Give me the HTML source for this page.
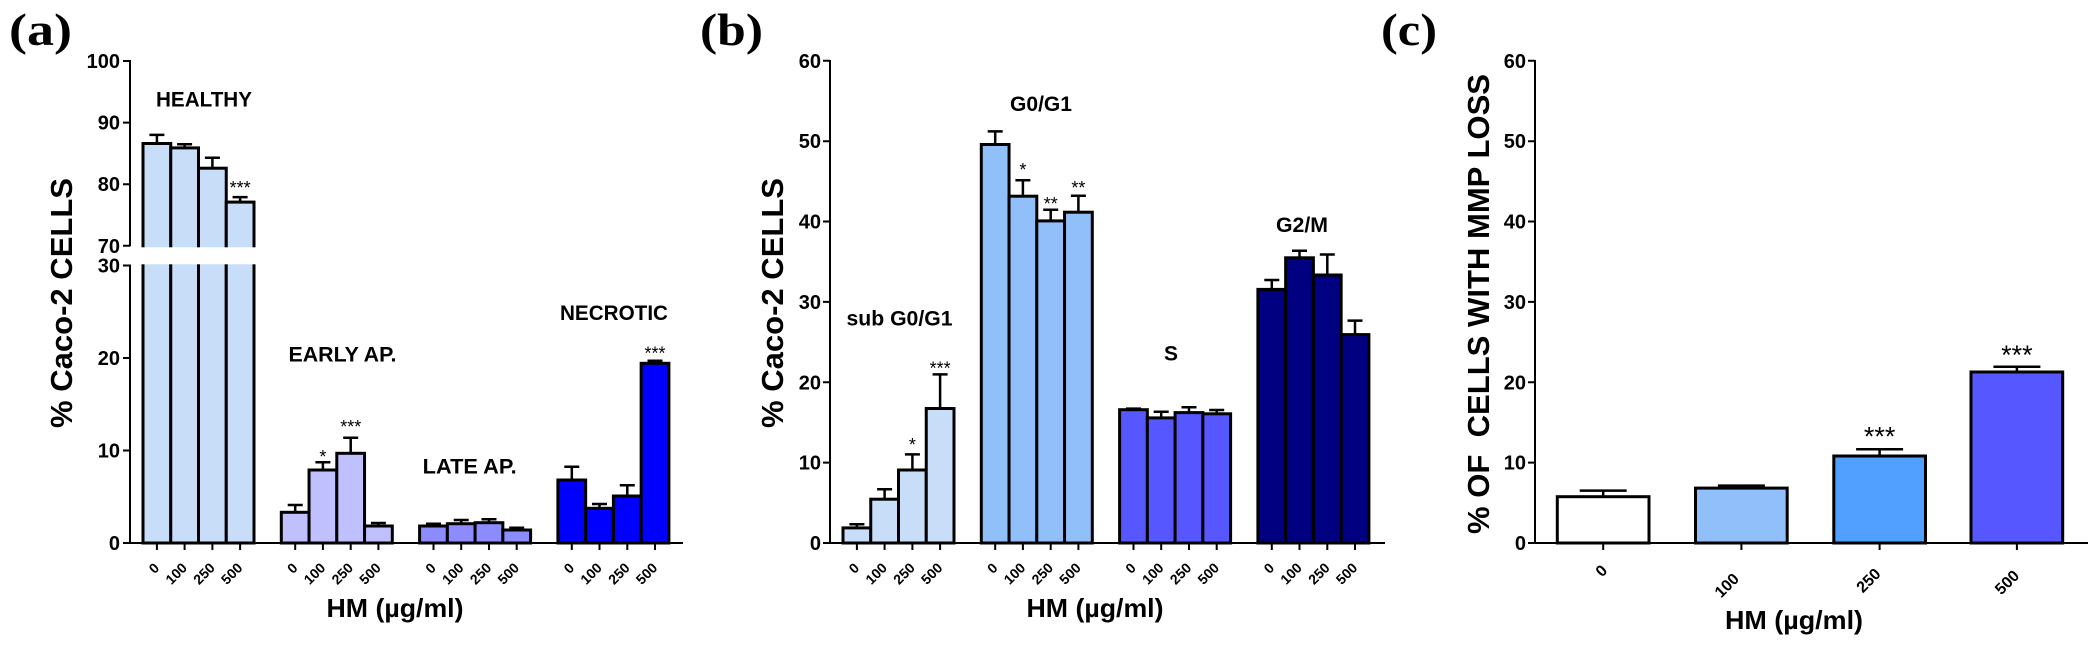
<!DOCTYPE html>
<html><head><meta charset="utf-8"><style>
html,body{margin:0;padding:0;background:#fff;}
svg{display:block;}
text{font-family:"Liberation Sans",Arial,sans-serif;}
.t{font-weight:bold;font-size:20px;text-anchor:end;}
.x{font-weight:bold;font-size:14px;text-anchor:end;}
.xc{font-weight:bold;font-size:16px;text-anchor:end;}
.lab{font-weight:bold;font-size:21px;text-anchor:middle;}
.st{font-size:18px;text-anchor:middle;}
.stc{font-size:27px;text-anchor:middle;}
.pl{font-family:"Liberation Serif",serif;font-weight:bold;font-size:46px;}
.yt{font-weight:bold;font-size:31px;text-anchor:middle;white-space:pre;}
.xt{font-weight:bold;font-size:26px;text-anchor:middle;}
</style></head><body>
<svg width="2097" height="645" viewBox="0 0 2097 645" xmlns="http://www.w3.org/2000/svg">
<rect width="2097" height="645" fill="#fff"/>

<!-- ================= PANEL A ================= -->
<text class="pl" x="9" y="45" textLength="63" lengthAdjust="spacingAndGlyphs">(a)</text>
<g stroke="#000" stroke-width="3">
<rect x="143" y="143.5" width="27.75" height="399.5" fill="#C8DEF8"/>
<rect x="170.75" y="147.9" width="27.75" height="395.1" fill="#C8DEF8"/>
<rect x="198.5" y="168.2" width="27.75" height="374.8" fill="#C8DEF8"/>
<rect x="226.25" y="202.1" width="27.75" height="340.9" fill="#C8DEF8"/>

<rect x="281.3" y="512.3" width="27.75" height="30.7" fill="#C0C0FF"/>
<rect x="309.05" y="470" width="27.75" height="73" fill="#C0C0FF"/>
<rect x="336.8" y="453.3" width="27.75" height="89.7" fill="#C0C0FF"/>
<rect x="364.55" y="526" width="27.75" height="17" fill="#C0C0FF"/>

<rect x="419.6" y="526" width="27.75" height="17" fill="#8C8CFF"/>
<rect x="447.35" y="523.7" width="27.75" height="19.3" fill="#8C8CFF"/>
<rect x="475.1" y="522.7" width="27.75" height="20.3" fill="#8C8CFF"/>
<rect x="502.85" y="530" width="27.75" height="13" fill="#8C8CFF"/>

<rect x="557.9" y="480" width="27.75" height="63" fill="#0000FF"/>
<rect x="585.65" y="508.3" width="27.75" height="34.7" fill="#0000FF"/>
<rect x="613.4" y="496" width="27.75" height="47" fill="#0000FF"/>
<rect x="641.15" y="363.3" width="27.75" height="179.7" fill="#0000FF"/>
</g>
<g stroke="#000" stroke-width="2.5" fill="none">
<path d="M156.9 143.5V134.9M149.4 134.9H164.4"/>
<path d="M184.6 147.9V144.2M177.1 144.2H192.1"/>
<path d="M212.4 168.2V157.7M204.9 157.7H219.9"/>
<path d="M240.1 202.1V197.1M232.6 197.1H247.6"/>
<path d="M295.2 512.3V505M287.7 505H302.7"/>
<path d="M322.9 470V462.3M315.4 462.3H330.4"/>
<path d="M350.7 453.3V437.7M343.2 437.7H358.2"/>
<path d="M378.4 526V523M370.9 523H385.9"/>
<path d="M433.5 526V523.7M426 523.7H441"/>
<path d="M461.2 523.7V520M453.7 520H468.7"/>
<path d="M489 522.7V519.3M481.5 519.3H496.5"/>
<path d="M516.7 530V527.7M509.2 527.7H524.2"/>
<path d="M571.8 480V466.7M564.3 466.7H579.3"/>
<path d="M599.5 508.3V504M592 504H607"/>
<path d="M627.3 496V485.3M619.8 485.3H634.8"/>
<path d="M655 363.3V360.7M647.5 360.7H662.5"/>
</g>
<!-- axis break -->
<rect x="124" y="247.3" width="134" height="17" fill="#fff"/>
<g stroke="#000" stroke-width="2" fill="none">
<path d="M130 60V246.3M130 264.5V544M123 61H130M123 122.6H130M123 184.2H130M123 245.8H130M123 265.5H130M123 358H130M123 450.5H130M123 543H130"/>
<path d="M129 543H683"/>
<path d="M156.9 543v7M184.6 543v7M212.4 543v7M240.1 543v7M295.2 543v7M322.9 543v7M350.7 543v7M378.4 543v7M433.5 543v7M461.2 543v7M489 543v7M516.7 543v7M571.8 543v7M599.5 543v7M627.3 543v7M655 543v7"/>
</g>
<text class="t" x="120" y="68">100</text>
<text class="t" x="120" y="129.6">90</text>
<text class="t" x="120" y="191.2">80</text>
<text class="t" x="120" y="252.8">70</text>
<text class="t" x="120" y="272.5">30</text>
<text class="t" x="120" y="365">20</text>
<text class="t" x="120" y="457.5">10</text>
<text class="t" x="120" y="550">0</text>
<text class="yt" transform="translate(72,303) rotate(-90)" textLength="250" lengthAdjust="spacingAndGlyphs">% Caco-2 CELLS</text>
<text class="lab" x="204" y="106.7" textLength="96" lengthAdjust="spacingAndGlyphs">HEALTHY</text>
<text class="lab" x="342.5" y="361.5" textLength="108" lengthAdjust="spacingAndGlyphs">EARLY AP.</text>
<text class="lab" x="469.7" y="473.5" textLength="94" lengthAdjust="spacingAndGlyphs">LATE AP.</text>
<text class="lab" x="614" y="320" textLength="108" lengthAdjust="spacingAndGlyphs">NECROTIC</text>
<text class="st" x="240.1" y="194">***</text>
<text class="st" x="322.9" y="463">*</text>
<text class="st" x="350.7" y="433">***</text>
<text class="st" x="655" y="359.3">***</text>
<g>
<text class="x" transform="translate(160.2,568.8) rotate(-45)">0</text>
<text class="x" transform="translate(187.9,568.8) rotate(-45)">100</text>
<text class="x" transform="translate(215.7,568.8) rotate(-45)">250</text>
<text class="x" transform="translate(243.4,568.8) rotate(-45)">500</text>
<text class="x" transform="translate(298.5,568.8) rotate(-45)">0</text>
<text class="x" transform="translate(326.2,568.8) rotate(-45)">100</text>
<text class="x" transform="translate(354,568.8) rotate(-45)">250</text>
<text class="x" transform="translate(381.7,568.8) rotate(-45)">500</text>
<text class="x" transform="translate(436.8,568.8) rotate(-45)">0</text>
<text class="x" transform="translate(464.5,568.8) rotate(-45)">100</text>
<text class="x" transform="translate(492.3,568.8) rotate(-45)">250</text>
<text class="x" transform="translate(520,568.8) rotate(-45)">500</text>
<text class="x" transform="translate(575.1,568.8) rotate(-45)">0</text>
<text class="x" transform="translate(602.8,568.8) rotate(-45)">100</text>
<text class="x" transform="translate(630.6,568.8) rotate(-45)">250</text>
<text class="x" transform="translate(658.3,568.8) rotate(-45)">500</text>
</g>
<text class="xt" x="395" y="617" textLength="137" lengthAdjust="spacingAndGlyphs">HM (µg/ml)</text>

<!-- ================= PANEL B ================= -->
<text class="pl" x="700" y="45" textLength="63" lengthAdjust="spacingAndGlyphs">(b)</text>
<g stroke="#000" stroke-width="3">
<rect x="843" y="527.9" width="27.75" height="15.1" fill="#C8DEF8"/>
<rect x="870.75" y="499.2" width="27.75" height="43.8" fill="#C8DEF8"/>
<rect x="898.5" y="470" width="27.75" height="73" fill="#C8DEF8"/>
<rect x="926.25" y="408.5" width="27.75" height="134.5" fill="#C8DEF8"/>

<rect x="981.3" y="144.5" width="27.75" height="398.5" fill="#91BFF9"/>
<rect x="1009.05" y="196.2" width="27.75" height="346.8" fill="#91BFF9"/>
<rect x="1036.8" y="220.9" width="27.75" height="322.1" fill="#91BFF9"/>
<rect x="1064.55" y="212.2" width="27.75" height="330.8" fill="#91BFF9"/>

<rect x="1119.6" y="409.7" width="27.75" height="133.3" fill="#5757FF"/>
<rect x="1147.35" y="417.9" width="27.75" height="125.1" fill="#5757FF"/>
<rect x="1175.1" y="412.6" width="27.75" height="130.4" fill="#5757FF"/>
<rect x="1202.85" y="413.8" width="27.75" height="129.2" fill="#5757FF"/>

<rect x="1257.9" y="289.4" width="27.75" height="253.6" fill="#000080"/>
<rect x="1285.65" y="257.8" width="27.75" height="285.2" fill="#000080"/>
<rect x="1313.4" y="275" width="27.75" height="268" fill="#000080"/>
<rect x="1341.15" y="334.6" width="27.75" height="208.4" fill="#000080"/>
</g>
<g stroke="#000" stroke-width="2.5" fill="none">
<path d="M856.9 527.9V524.2M849.4 524.2H864.4"/>
<path d="M884.6 499.2V489.3M877.1 489.3H892.1"/>
<path d="M912.4 470V454.4M904.9 454.4H919.9"/>
<path d="M940.1 408.5V374.4M932.6 374.4H947.6"/>
<path d="M995.2 144.5V131.4M987.7 131.4H1002.7"/>
<path d="M1022.9 196.2V180.2M1015.4 180.2H1030.4"/>
<path d="M1050.7 220.9V209.8M1043.2 209.8H1058.2"/>
<path d="M1078.4 212.2V195.8M1070.9 195.8H1085.9"/>
<path d="M1133.5 409.7V408.6M1126 408.6H1141"/>
<path d="M1161.2 417.9V411.7M1153.7 411.7H1168.7"/>
<path d="M1189 412.6V407.2M1181.5 407.2H1196.5"/>
<path d="M1216.7 413.8V410M1209.2 410H1224.2"/>
<path d="M1271.8 289.4V280M1264.3 280H1279.3"/>
<path d="M1299.5 257.8V250.8M1292 250.8H1307"/>
<path d="M1327.3 275V254.5M1319.8 254.5H1334.8"/>
<path d="M1355 334.6V320.6M1347.5 320.6H1362.5"/>
</g>
<g stroke="#000" stroke-width="2" fill="none">
<path d="M830 60V544M823 60.8H830M823 141.2H830M823 221.5H830M823 301.9H830M823 382.3H830M823 462.6H830M823 543H830"/>
<path d="M829 543H1385"/>
<path d="M856.9 543v7M884.6 543v7M912.4 543v7M940.1 543v7M995.2 543v7M1022.9 543v7M1050.7 543v7M1078.4 543v7M1133.5 543v7M1161.2 543v7M1189 543v7M1216.7 543v7M1271.8 543v7M1299.5 543v7M1327.3 543v7M1355 543v7"/>
</g>
<text class="t" x="821" y="67.8">60</text>
<text class="t" x="821" y="148.2">50</text>
<text class="t" x="821" y="228.5">40</text>
<text class="t" x="821" y="308.9">30</text>
<text class="t" x="821" y="389.3">20</text>
<text class="t" x="821" y="469.6">10</text>
<text class="t" x="821" y="550">0</text>
<text class="yt" transform="translate(783,303) rotate(-90)" textLength="250" lengthAdjust="spacingAndGlyphs">% Caco-2 CELLS</text>
<text class="lab" x="899.5" y="325.5" textLength="106" lengthAdjust="spacingAndGlyphs">sub G0/G1</text>
<text class="lab" x="1041" y="111" textLength="62" lengthAdjust="spacingAndGlyphs">G0/G1</text>
<text class="lab" x="1171" y="360.5">S</text>
<text class="lab" x="1302" y="232" textLength="52" lengthAdjust="spacingAndGlyphs">G2/M</text>
<text class="st" x="912.4" y="451">*</text>
<text class="st" x="940.1" y="374.5">***</text>
<text class="st" x="1022.9" y="176">*</text>
<text class="st" x="1050.7" y="210">**</text>
<text class="st" x="1078.4" y="194">**</text>
<g>
<text class="x" transform="translate(860.2,568.8) rotate(-45)">0</text>
<text class="x" transform="translate(887.9,568.8) rotate(-45)">100</text>
<text class="x" transform="translate(915.7,568.8) rotate(-45)">250</text>
<text class="x" transform="translate(943.4,568.8) rotate(-45)">500</text>
<text class="x" transform="translate(998.5,568.8) rotate(-45)">0</text>
<text class="x" transform="translate(1026.2,568.8) rotate(-45)">100</text>
<text class="x" transform="translate(1054,568.8) rotate(-45)">250</text>
<text class="x" transform="translate(1081.7,568.8) rotate(-45)">500</text>
<text class="x" transform="translate(1136.8,568.8) rotate(-45)">0</text>
<text class="x" transform="translate(1164.5,568.8) rotate(-45)">100</text>
<text class="x" transform="translate(1192.3,568.8) rotate(-45)">250</text>
<text class="x" transform="translate(1220,568.8) rotate(-45)">500</text>
<text class="x" transform="translate(1275.1,568.8) rotate(-45)">0</text>
<text class="x" transform="translate(1302.8,568.8) rotate(-45)">100</text>
<text class="x" transform="translate(1330.6,568.8) rotate(-45)">250</text>
<text class="x" transform="translate(1358.3,568.8) rotate(-45)">500</text>
</g>
<text class="xt" x="1095" y="617" textLength="137" lengthAdjust="spacingAndGlyphs">HM (µg/ml)</text>

<!-- ================= PANEL C ================= -->
<text class="pl" x="1381" y="45" textLength="56" lengthAdjust="spacingAndGlyphs">(c)</text>
<g stroke="#000" stroke-width="3">
<rect x="1557.3" y="496.7" width="91.7" height="46.3" fill="#FFFFFF"/>
<rect x="1695.5" y="488.1" width="91.7" height="54.9" fill="#91BFF9"/>
<rect x="1833.8" y="456" width="91.7" height="87" fill="#519FFF"/>
<rect x="1971" y="372" width="91.7" height="171" fill="#5757FF"/>
</g>
<g stroke="#000" stroke-width="2.5" fill="none">
<path d="M1603.2 496.7V490.6M1579.7 490.6H1626.7"/>
<path d="M1741.4 488.1V485.6M1717.9 485.6H1764.9"/>
<path d="M1879.6 456V449.3M1856.1 449.3H1903.1"/>
<path d="M2016.9 372V366.7M1993.4 366.7H2040.4"/>
</g>
<g stroke="#000" stroke-width="2" fill="none">
<path d="M1535 60V544M1528 60.8H1535M1528 141.2H1535M1528 221.5H1535M1528 301.9H1535M1528 382.3H1535M1528 462.6H1535M1528 543H1535"/>
<path d="M1534 543H2088"/>
<path d="M1603.2 543v7M1741.4 543v7M1879.6 543v7M2016.9 543v7"/>
</g>
<text class="t" x="1526" y="67.8">60</text>
<text class="t" x="1526" y="148.2">50</text>
<text class="t" x="1526" y="228.5">40</text>
<text class="t" x="1526" y="308.9">30</text>
<text class="t" x="1526" y="389.3">20</text>
<text class="t" x="1526" y="469.6">10</text>
<text class="t" x="1526" y="550">0</text>
<text class="yt" transform="translate(1489,304) rotate(-90)" textLength="460" lengthAdjust="spacingAndGlyphs">% OF  CELLS WITH MMP LOSS</text>
<text class="stc" x="1879.6" y="445.5">***</text>
<text class="stc" x="2016.9" y="364">***</text>
<text class="xc" transform="translate(1608.3,571.4) rotate(-45)">0</text>
<text class="xc" transform="translate(1740,579.8) rotate(-45)">100</text>
<text class="xc" transform="translate(1881.7,574.8) rotate(-45)">250</text>
<text class="xc" transform="translate(2020.3,576.7) rotate(-45)">500</text>
<text class="xt" x="1794" y="629" textLength="138" lengthAdjust="spacingAndGlyphs">HM (µg/ml)</text>
</svg>
</body></html>
